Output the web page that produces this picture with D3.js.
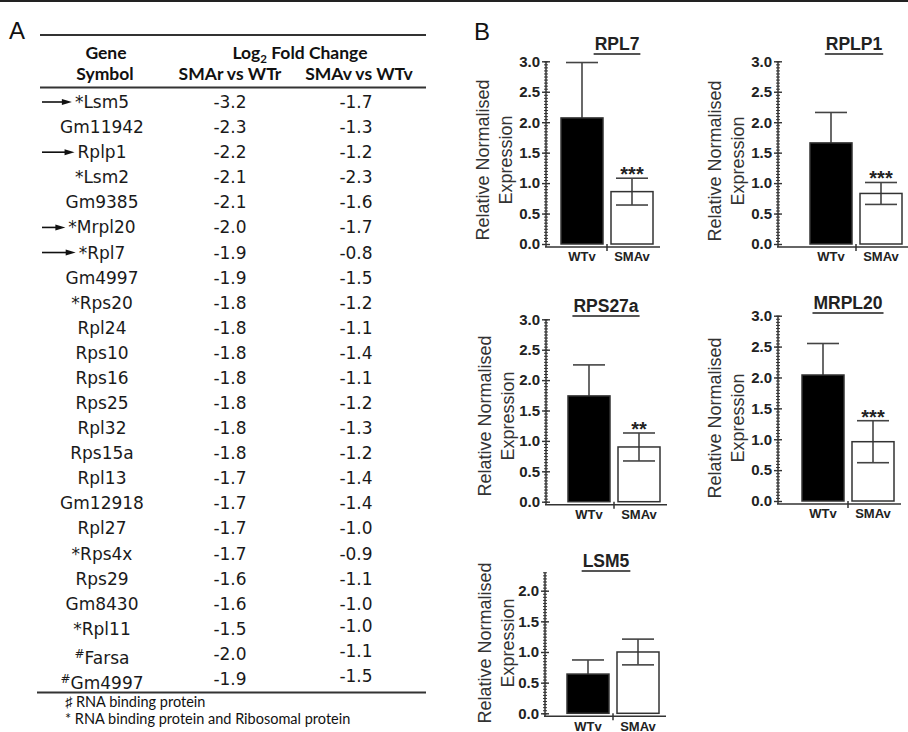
<!DOCTYPE html>
<html>
<head>
<meta charset="utf-8">
<title>SMA ribosomal genes</title>
<style>
  body { margin: 0; background: #fff; }
</style>
</head>
<body>
<script src="https://cdnjs.cloudflare.com/ajax/libs/d3/7.8.5/d3.min.js"></script>
<script>
// ---- panel A : log2 fold change table
var genes = ["*Lsm5", "Gm11942", "Rplp1", "*Lsm2", "Gm9385", "*Mrpl20", "*Rpl7", "Gm4997",
             "*Rps20", "Rpl24", "Rps10", "Rps16", "Rps25", "Rpl32", "Rps15a", "Rpl13",
             "Gm12918", "Rpl27", "*Rps4x", "Rps29", "Gm8430", "*Rpl11", "#Farsa", "#Gm4997"];
var fcSMAr = [-3.2, -2.3, -2.2, -2.1, -2.1, -2.0, -1.9, -1.9, -1.8, -1.8, -1.8, -1.8,
              -1.8, -1.8, -1.8, -1.7, -1.7, -1.7, -1.7, -1.6, -1.6, -1.5, -2.0, -1.9];
var fcSMAv = [-1.7, -1.3, -1.2, -2.3, -1.6, -1.7, -0.8, -1.5, -1.2, -1.1, -1.4, -1.1,
              -1.2, -1.3, -1.2, -1.4, -1.4, -1.0, -0.9, -1.1, -1.0, -1.0, -1.1, -1.5];
var arrowed = ["*Lsm5", "Rplp1", "*Mrpl20", "*Rpl7"];
var footnotes = ["\u266F RNA binding protein", "* RNA binding protein and Ribosomal protein"];

// ---- panel B : qPCR validation
var targets = ["RPL7", "RPLP1", "RPS27a", "MRPL20", "LSM5"];
var groups = ["WTv", "SMAv"];
var meanWTv = [2.07, 1.66, 1.74, 2.04, 0.64];
var semWTv = [0.91, 0.50, 0.51, 0.51, 0.23];
var meanSMAv = [0.86, 0.83, 0.90, 0.96, 1.00];
var semSMAv = [0.22, 0.18, 0.23, 0.34, 0.21];
var stars = ["***", "***", "**", "***", ""];
var yMax = [3, 3, 3, 3, 2.3];

// where each small chart sits on the page
var panels = [
  {axisX: 546, yB: 244, yT: 61.3, barX: 561, titleX: 617, titleY: 50, lx: 483, lcy: 160},
  {axisX: 778, yB: 244, yT: 61.3, barX: 810, titleX: 854, titleY: 50, lx: 715, lcy: 161},
  {axisX: 546, yB: 501.7, yT: 319.3, barX: 568, titleX: 606, titleY: 312, lx: 485, lcy: 416},
  {axisX: 778, yB: 501, yT: 315.7, barX: 802, titleX: 848, titleY: 309, lx: 715, lcy: 418},
  {axisX: 545, yB: 713.3, yT: 572.3, barX: 567, titleX: 606, titleY: 567, lx: 485, lcy: 643}
];

var w = 908, h = 732;
var ink = "#333";
var svg = d3.select("body").append("svg")
  .attr("width", w)
  .attr("height", h);

// frame line along the top
svg.append("line")
  .attr("x1", 0).attr("x2", w).attr("y1", 1).attr("y2", 1)
  .attr("stroke", "#222").attr("stroke-width", 2);

// ================= A =================
var A = svg.append("g");
A.append("text").text("A")
  .attr("x", 9).attr("y", 39)
  .style("font", "24px 'Liberation Sans', Arial, sans-serif").attr("fill", "#111");

[35, 87.5, 692.5].forEach(function(yy) {
  A.append("line")
    .attr("x1", yy > 600 ? 37 : 40).attr("x2", 426).attr("y1", yy).attr("y2", yy)
    .attr("stroke", ink).attr("stroke-width", 1.8);
});

var headFont = "bold 17.5px Lato, 'Open Sans', sans-serif";
function head(t, x, y) {
  return A.append("text").text(t)
    .attr("x", x).attr("y", y).attr("text-anchor", "middle")
    .style("font", headFont).attr("fill", "#111");
}
head("Gene", 106, 59);
head("Symbol", 105, 80);
head("SMAr vs WTr", 230, 80);
head("SMAv vs WTv", 359, 80);
var lg = A.append("text")
  .attr("x", 300).attr("y", 59).attr("text-anchor", "middle")
  .style("font", headFont).attr("fill", "#111");
lg.append("tspan").text("Log");
lg.append("tspan").text("2").attr("dy", 4).style("font-size", "11.5px");
lg.append("tspan").text(" Fold Change").attr("dy", -4);

var rowY = d3.scalePoint()
  .domain(d3.range(genes.length))
  .range([102, 679]);

var rowFont = "17px 'DejaVu Sans', Verdana, sans-serif";
var colX = {name: 102, r: 230, v: 356};

var rows = A.selectAll("g.row")
  .data(genes)
  .enter().append("g")
  .attr("class", "row")
  .attr("transform", function(d, i) { return "translate(0," + rowY(i) + ")"; });

rows.each(function(d, i) {
  var g = d3.select(this);
  var t = g.append("text")
    .attr("x", colX.name).attr("y", 6).attr("text-anchor", "middle")
    .style("font", rowFont).attr("fill", "#1a1a1a");
  if (d[0] === "#") {
    t.attr("y", 10);
    t.append("tspan").text("#").attr("dy", -6).style("font-size", "12px");
    t.append("tspan").text(d.slice(1)).attr("dy", 6);
  } else {
    t.text(d);
  }
  g.append("text").text(fcSMAr[i].toFixed(1))
    .attr("x", colX.r).attr("y", 6).attr("text-anchor", "middle")
    .style("font", rowFont).attr("fill", "#1a1a1a");
  g.append("text").text(fcSMAv[i].toFixed(1))
    .attr("x", colX.v).attr("y", d[0] === "#" || d === "*Rpl11" ? 3 : 6).attr("text-anchor", "middle")
    .style("font", rowFont).attr("fill", "#1a1a1a");

  // arrows pointing at the genes checked by qPCR
  if (arrowed.indexOf(d) >= 0) {
    var x0 = colX.name - t.node().getComputedTextLength() / 2 - 3;
    g.append("line")
      .attr("x1", 42).attr("x2", x0 - 8).attr("y1", 0).attr("y2", 0)
      .attr("stroke", "#111").attr("stroke-width", 1.6);
    g.append("path")
      .attr("d", "M" + (x0 - 10) + ",-3 L" + x0 + ",0 L" + (x0 - 10) + ",3 Z")
      .attr("fill", "#111");
  }
});

A.selectAll("text.note")
  .data(footnotes)
  .enter().append("text")
  .attr("class", "note")
  .text(function(d) { return d; })
  .attr("x", 65)
  .attr("y", function(d, i) { return 707 + i * 17; })
  .style("font", "14.5px Lato, 'Open Sans', sans-serif").attr("fill", "#111");

// ================= B =================
svg.append("text").text("B")
  .attr("x", 474).attr("y", 40)
  .style("font", "24px 'Liberation Sans', Arial, sans-serif").attr("fill", "#111");

var arial = "'Liberation Sans', Arial, sans-serif";

targets.forEach(function(name, i) {
  var p = panels[i];
  var g = svg.append("g");
  var means = [meanWTv[i], meanSMAv[i]];
  var sems = [semWTv[i], semSMAv[i]];
  var baseY = p.yB + 3;

  var y = d3.scaleLinear().domain([0, yMax[i]]).range([p.yB, p.yT]);
  var x = d3.scaleBand().domain(groups).range([p.barX, p.barX + 92]).paddingInner(0.16);
  var bw = x.bandwidth();

  // y axis: fine minor ticks + labelled major ticks, both crossing the line
  var minor = g.append("g")
    .attr("transform", "translate(" + p.axisX + ",0)")
    .call(d3.axisLeft(y).tickValues(d3.range(0, yMax[i] + 0.001, 0.05)).tickSize(2).tickFormat(""));
  minor.select(".domain").remove();
  minor.selectAll(".tick line").attr("x1", 2).attr("stroke", ink).attr("stroke-width", 1);

  var major = g.append("g")
    .attr("transform", "translate(" + p.axisX + ",0)")
    .call(d3.axisLeft(y)
      .tickValues(d3.range(0, Math.floor(yMax[i] * 2) / 2 + 0.001, 0.5))
      .tickSize(4).tickPadding(2)
      .tickFormat(d3.format(".1f")));
  major.select(".domain").remove();
  major.selectAll(".tick line").attr("x1", 4).attr("stroke", ink).attr("stroke-width", 1.4);
  major.selectAll(".tick text")
    .style("font", "bold 15px " + arial).attr("fill", "#222");

  g.append("line")
    .attr("x1", p.axisX).attr("x2", p.axisX).attr("y1", p.yT).attr("y2", baseY)
    .attr("stroke", ink).attr("stroke-width", 1.5);

  // x axis
  g.append("line")
    .attr("x1", p.axisX - 1).attr("x2", p.barX + 99).attr("y1", baseY).attr("y2", baseY)
    .attr("stroke", ink).attr("stroke-width", 1.5);
  var mid = (x("WTv") + bw + x("SMAv")) / 2;
  g.append("line")
    .attr("x1", mid).attr("x2", mid).attr("y1", baseY - 3).attr("y2", baseY + 4)
    .attr("stroke", ink).attr("stroke-width", 1.5);

  var xa = g.append("g")
    .attr("transform", "translate(0," + baseY + ")")
    .call(d3.axisBottom(x).tickSize(0).tickPadding(5));
  xa.select(".domain").remove();
  xa.selectAll(".tick text").style("font", "bold 13px " + arial).attr("fill", "#222");

  // error bars sit behind the bars
  groups.forEach(function(grp, j) {
    var cx = x(grp) + bw / 2;
    var lo = y(Math.max(0, means[j] - sems[j])), hi = y(means[j] + sems[j]);
    g.append("line")
      .attr("x1", cx).attr("x2", cx).attr("y1", lo).attr("y2", hi)
      .attr("stroke", "#444").attr("stroke-width", 1.6);
    [lo, hi].forEach(function(yy) {
      g.append("line")
        .attr("x1", cx - 16).attr("x2", cx + 16).attr("y1", yy).attr("y2", yy)
        .attr("stroke", "#444").attr("stroke-width", 1.6);
    });
  });

  g.selectAll("rect")
    .data(groups)
    .enter().append("rect")
    .attr("x", function(d) { return x(d); })
    .attr("y", function(d, j) { return y(means[j]); })
    .attr("width", bw)
    .attr("height", function(d, j) { return p.yB - y(means[j]); })
    .attr("fill", function(d, j) { return j === 0 ? "#000" : "none"; })
    .attr("stroke", ink)
    .attr("stroke-width", 1.5);

  if (stars[i]) {
    g.append("text").text(stars[i])
      .attr("x", x("SMAv") + bw / 2)
      .attr("y", y(meanSMAv[i] + semSMAv[i]) + 3)
      .attr("text-anchor", "middle")
      .style("font", "bold 20px " + arial).attr("fill", "#222");
  }

  // underlined title
  var tt = g.append("text").text(name)
    .attr("x", p.titleX).attr("y", p.titleY)
    .attr("text-anchor", "middle")
    .style("font", "bold 17.5px " + arial).attr("fill", "#222");
  var tw = tt.node().getComputedTextLength();
  g.append("line")
    .attr("x1", p.titleX - tw / 2 - 1).attr("x2", p.titleX + tw / 2 + 1)
    .attr("y1", p.titleY + 4).attr("y2", p.titleY + 4)
    .attr("stroke", "#555").attr("stroke-width", 2);

  // y label on two lines
  ["Relative Normalised", "Expression"].forEach(function(s, k) {
    var lx = p.lx + k * 23;
    g.append("text").text(s)
      .attr("x", lx).attr("y", p.lcy)
      .attr("transform", "rotate(-90," + lx + "," + p.lcy + ")")
      .attr("text-anchor", "middle")
      .attr("dominant-baseline", "central")
      .style("font", "18px " + arial).attr("fill", "#333");
  });
});
</script>
</body>
</html>
